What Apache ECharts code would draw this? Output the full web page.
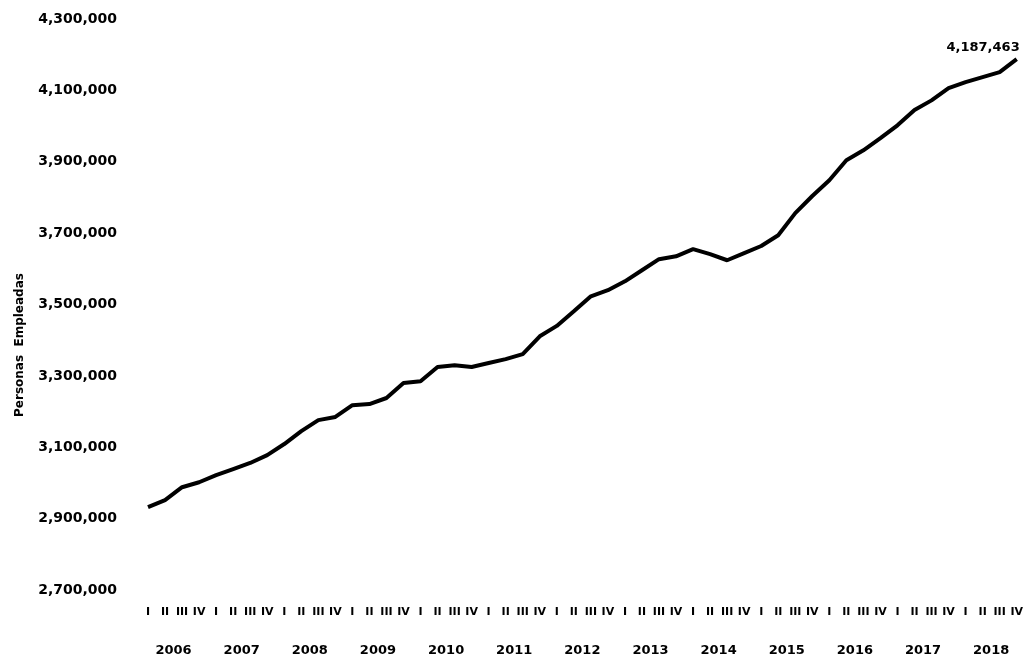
<!DOCTYPE html>
<html>
<head>
<meta charset="utf-8">
<script src="https://cdn.jsdelivr.net/npm/echarts@6/dist/echarts.min.js"></script>
<style>
html,body{margin:0;padding:0;background:#fff;}
#c{width:1026px;height:665px;}
</style>
</head>
<body>
<div id="c"></div>
<script>
var years = ['2006','2007','2008','2009','2010','2011','2012','2013','2014','2015','2016','2017','2018'];
var quarters = ['I','II','III','IV'];
var values = [
  2932000, 2952000, 2988000, 3002000,
  3022000, 3039000, 3056000, 3078000,
  3109000, 3145000, 3176000, 3185000,
  3218000, 3221000, 3238000, 3280000,
  3285000, 3325000, 3330000, 3325000,
  3336000, 3347000, 3361000, 3411000,
  3440000, 3481000, 3523000, 3540000,
  3565000, 3596000, 3627000, 3635000,
  3655000, 3641000, 3624000, 3644000,
  3664000, 3694000, 3756000, 3804000,
  3848000, 3904000, 3932000, 3966000,
  4002000, 4045000, 4072000, 4106000,
  4123000, 4137000, 4151000, 4187463
];
var yTicks = { min: 2700000, max: 4300000, step: 200000 };
var axisName = 'Personas  Empleadas';

var quarterCats = [];
years.forEach(function(){ quarters.forEach(function(q){ quarterCats.push(q); }); });
// half-quarter grid so each year label sits between its quarters II and III
var halfCats = [];
for (var j = 0; j < quarterCats.length * 2 - 1; j++) {
  var k = (j - 3) / 8;
  halfCats.push(Number.isInteger(k) && k >= 0 && k < years.length ? years[k] : '');
}
var seriesData = values.map(function(v, i){
  if (i === values.length - 1) {
    return { value: v, label: { show: true } };
  }
  return v;
});
function fmt(v){ return Math.round(v).toLocaleString('en-US'); }

var FONT = 'DejaVu Sans';
var chart = echarts.init(document.getElementById('c'));
chart.setOption({
  backgroundColor: '#ffffff',
  animation: false,
  textStyle: { fontFamily: FONT },
  grid: { left: 148, right: 5, top: 19, bottom: 75, containLabel: false },
  xAxis: [
    {
      type: 'category', data: quarterCats, boundaryGap: false,
      axisLine: { show: false }, axisTick: { show: false }, splitLine: { show: false },
      axisLabel: { interval: 0, margin: 17, color: '#000', fontWeight: 'bold', fontSize: 11, fontFamily: FONT }
    },
    {
      type: 'category', data: halfCats, boundaryGap: false, position: 'bottom',
      axisLine: { show: false }, axisTick: { show: false }, splitLine: { show: false },
      axisLabel: { interval: 0, margin: 54, color: '#000', fontWeight: 'bold', fontSize: 13, fontFamily: FONT }
    }
  ],
  yAxis: {
    type: 'value', min: yTicks.min, max: yTicks.max, interval: yTicks.step,
    axisLine: { show: false }, axisTick: { show: false }, splitLine: { show: false },
    axisLabel: { margin: 31, color: '#000', fontWeight: 'bold', fontSize: 14, fontFamily: FONT, formatter: fmt }
  },
  graphic: [{
    type: 'text', rotation: Math.PI / 2,
    x: 20, y: 345,
    style: { text: axisName, fill: '#000', font: 'bold 12px "DejaVu Sans"', textAlign: 'center', textVerticalAlign: 'middle' }
  }],
  series: [{
    type: 'line', data: seriesData, xAxisIndex: 0, yAxisIndex: 0,
    showSymbol: true, symbol: 'circle', symbolSize: 0,
    lineStyle: { color: '#000', width: 4 },
    itemStyle: { color: '#000' },
    label: {
      show: false, position: 'top', align: 'right', distance: 5, offset: [3, 0],
      color: '#000', fontWeight: 'bold', fontSize: 13, fontFamily: FONT,
      formatter: function(p){ return fmt(p.value); }
    }
  }]
});
</script>
</body>
</html>
